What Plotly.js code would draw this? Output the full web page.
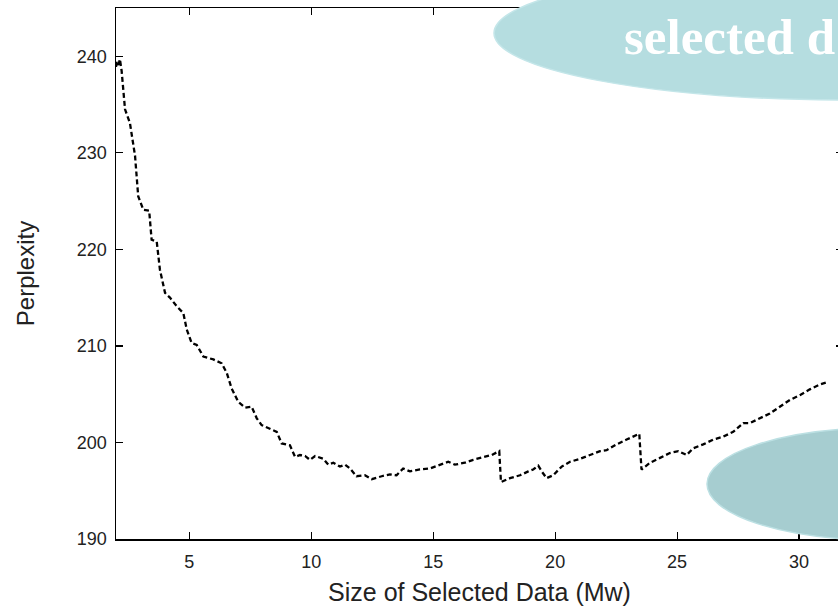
<!DOCTYPE html>
<html>
<head>
<meta charset="utf-8">
<script src="https://cdn.plot.ly/plotly-3.0.1.min.js"></script>
<style>
html, body { margin: 0; padding: 0; overflow: hidden; background: #fff; }
#chart { width: 846px; height: 606px; }
</style>
</head>
<body>
<div id="chart"></div>
<script>
// Size of selected data (Mw)
const sizeMw = [2.00, 2.04, 2.10, 2.16, 2.23, 2.37, 2.57, 2.78, 2.91, 3.12, 3.36, 3.46, 3.67, 3.80, 4.01, 4.21, 4.49, 4.76, 4.90, 5.10,
  5.31, 5.58, 5.99, 6.33, 6.54, 6.74, 7.01, 7.29, 7.56, 7.77, 7.97, 8.31, 8.59, 8.79, 9.13, 9.34, 9.54, 9.75, 9.95, 10.16,
  10.50, 10.70, 10.91, 11.18, 11.39, 11.59, 11.86, 12.20, 12.48, 12.89, 13.23, 13.50, 13.77, 14.05, 14.46, 14.87, 15.28, 15.62, 15.89, 16.30,
  16.64, 17.05, 17.40, 17.71, 17.78, 18.15, 18.56, 18.90, 19.10, 19.31, 19.45, 19.65, 19.92, 20.27, 20.61, 21.02, 21.43, 21.84, 22.11, 22.52,
  22.93, 23.36, 23.45, 23.54, 23.89, 24.30, 24.70, 25.05, 25.39, 25.66, 26.07, 26.48, 26.89, 27.30, 27.71, 27.98, 28.39, 28.80, 29.21, 29.62,
  30.03, 30.44, 30.85, 31.10];
// Perplexity
const perplexity = [238.9, 239.4, 239.1, 239.7, 238.5, 234.5, 233.1, 229.7, 225.5, 224.1, 224.0, 221.0, 220.8, 217.9, 215.5, 215.0, 214.1, 213.4, 211.7, 210.3,
  210.1, 208.9, 208.6, 208.2, 207.2, 205.6, 204.2, 203.6, 203.7, 202.5, 201.8, 201.4, 201.1, 199.9, 199.7, 198.5, 198.7, 198.6, 198.2, 198.6,
  198.3, 197.7, 197.9, 197.5, 197.7, 197.3, 196.5, 196.6, 196.2, 196.5, 196.7, 196.6, 197.3, 197.0, 197.2, 197.3, 197.7, 198.0, 197.7, 197.9,
  198.2, 198.5, 198.7, 199.1, 195.9, 196.3, 196.6, 197.0, 197.2, 197.6, 197.0, 196.3, 196.6, 197.5, 198.0, 198.3, 198.7, 199.1, 199.2, 199.8,
  200.3, 200.8, 200.9, 197.2, 197.9, 198.4, 198.9, 199.1, 198.7, 199.4, 199.8, 200.3, 200.6, 201.1, 202.0, 202.0, 202.5, 203.0, 203.7, 204.4,
  204.9, 205.5, 206.0, 206.2];
const xTickVals = [5, 10, 15, 20, 25, 30];
const yTickVals = [190, 200, 210, 220, 230, 240];
const xTitle = 'Size of Selected Data (Mw)';
const yTitle = 'Perplexity';
const calloutText = 'selected d';

// pixel -> paper helpers for the decorative callout ellipses
const L = 116, R = 843, T = 8, B = 539;
const px = v => (v - L) / (R - L);
const py = v => (B - v) / (B - T);

const trace = {
  x: sizeMw, y: perplexity, type: 'scatter', mode: 'lines',
  line: { color: '#000', width: 2.3, dash: '5px,3px' },
  hoverinfo: 'x+y', showlegend: false
};

const axisCommon = {
  showline: true, mirror: 'ticks', linecolor: '#000', linewidth: 1.5,
  ticks: 'inside', ticklen: 7, tickwidth: 1.2, tickcolor: '#000',
  showgrid: false, zeroline: false,
  tickfont: { family: 'Liberation Sans, Arial, sans-serif', size: 18, color: '#222' }
};

const layout = {
  width: 846, height: 606,
  margin: { l: L, r: 846 - R, t: T, b: 606 - B },
  paper_bgcolor: '#fff', plot_bgcolor: '#fff',
  font: { family: 'Liberation Sans, Arial, sans-serif', color: '#222' },
  xaxis: Object.assign({}, axisCommon, {
    range: [2, 31.8], tickmode: 'array', tickvals: xTickVals,
    ticklabelstandoff: 6,
    title: { text: xTitle, font: { size: 25, color: '#222' }, standoff: 14 }
  }),
  yaxis: Object.assign({}, axisCommon, {
    range: [190, 245], tickmode: 'array', tickvals: yTickVals,
    ticklabelstandoff: 4,
    title: { text: yTitle, font: { size: 24, color: '#222' }, standoff: 35 }
  }),
  shapes: [
    { type: 'circle', xref: 'paper', yref: 'paper', layer: 'above',
      x0: px(494), x1: px(1204), y0: py(100), y1: py(-34),
      fillcolor: '#b5dde0', line: { color: '#c4e6e9', width: 1.5 } },
    { type: 'circle', xref: 'paper', yref: 'paper', layer: 'above',
      x0: px(707), x1: px(1051), y0: py(540), y1: py(428),
      fillcolor: '#a6cdd0', line: { color: '#bce0e3', width: 1.5 } }
  ],
  annotations: [
    { text: '<b>' + calloutText + '</b>', xref: 'paper', yref: 'paper',
      x: px(622), y: py(37), xanchor: 'left', yanchor: 'middle', showarrow: false,
      font: { family: 'Liberation Serif, Times New Roman, serif', size: 51, color: '#ffffff' } }
  ]
};

Plotly.newPlot('chart', [trace], layout, { displayModeBar: false, staticPlot: true });
</script>
</body>
</html>
